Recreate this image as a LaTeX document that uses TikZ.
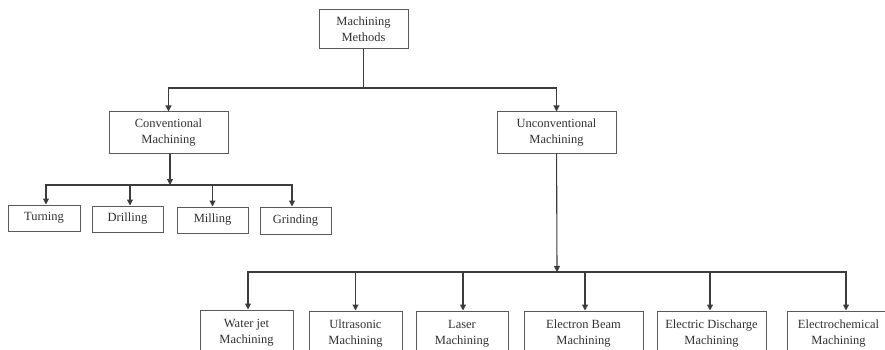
\documentclass[tikz,border=0pt]{standalone}
\usepackage{fontspec}
\setmainfont{Liberation Serif}
\usepackage{xcolor}
\usetikzlibrary{arrows.meta}

\definecolor{linegray}{HTML}{3C3C3C}
\definecolor{boxgray}{HTML}{5A5A5A}
\definecolor{textgray}{HTML}{303030}

\begin{document}
\begin{tikzpicture}[x=1pt,y=-1pt,
    box/.style={draw=boxgray,line width=1pt,align=center,text=textgray,
        font=\fontsize{12.5}{16}\selectfont,inner sep=0pt},
    arr/.style={-{Triangle[length=6pt,width=6pt]},draw=linegray,line width=1.1pt},
    bus/.style={draw=linegray,line width=1.1pt}]
    \useasboundingbox (0,0) rectangle (885,350);
    \clip (0,0) rectangle (885,350);

       \node[box,minimum width=89pt,minimum height=39pt] (methods) at (363.5,29.5) {Machining\\Methods};
       \node[box,minimum width=119pt,minimum height=41pt] (conv) at (168.5,132.5) {Conventional\\Machining};
       \node[box,minimum width=119pt,minimum height=41pt] (unconv) at (556.5,132.5) {Unconventional\\Machining};

       \node[box,minimum width=72pt,minimum height=26pt] (turning) at (44,218) {Turning};
       \node[box,minimum width=71pt,minimum height=26pt] (drilling) at (127.5,219) {Drilling};
       \node[box,minimum width=71pt,minimum height=26pt] (milling) at (212.5,220) {Milling};
       \node[box,minimum width=71pt,minimum height=27pt] (grinding) at (295.5,220.5) {Grinding};

       \node[box,minimum width=93pt,minimum height=46pt] (waterjet) at (246.5,333) {Water jet\\Machining};
       \node[box,minimum width=93pt,minimum height=46pt] (ultra) at (355.5,334) {Ultrasonic\\Machining};
       \node[box,minimum width=92pt,minimum height=46pt] (laser) at (462,334) {Laser\\Machining};
       \node[box,minimum width=119pt,minimum height=46pt] (ebeam) at (583.5,334) {Electron Beam\\Machining};
       \node[box,minimum width=109pt,minimum height=46pt] (edm) at (711.5,334) {Electric Discharge\\Machining};
       \node[box,minimum width=103pt,minimum height=46pt] (ecm) at (838.5,334) {Electrochemical\\Machining};

       % top level split
       \coordinate (b1) at (363.5,88);
       \draw[bus] (methods) -- (b1);
       \draw[arr] (b1) -| (conv);
       \draw[arr] (b1) -| (unconv);

       % conventional branch
       \coordinate (b2) at (170,185);
       \draw[arr] (conv.south -| b2) -- (b2);
       \draw[arr] (b2) -| ([xshift=2pt]turning.north);
       \draw[arr] (b2) -| ([xshift=2.5pt]drilling.north);
       \draw[arr] (b2) -| (milling);
       \draw[arr] (b2) -| ([xshift=-3.5pt]grinding.north);

       % unconventional branch
       \coordinate (b3) at (557,272);
       \draw[arr] (unconv) -- (b3);
       \draw[arr] (b3) -| ([xshift=1.5pt]waterjet.north);
       \draw[arr] (b3) -| (ultra);
       \draw[arr] (b3) -| ([xshift=1pt]laser.north);
       \draw[arr] (b3) -| ([xshift=1.5pt]ebeam.north);
       \draw[arr] (b3) -| ([xshift=-1.5pt]edm.north);
       \draw[arr] (b3) -| ([xshift=7.5pt]ecm.north);
    \end{tikzpicture}
\end{document}
